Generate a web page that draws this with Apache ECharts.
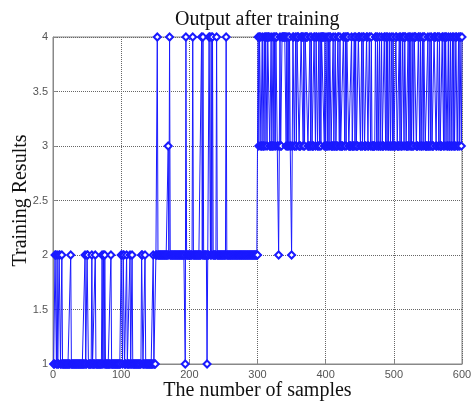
<!DOCTYPE html>
<html>
<head>
<meta charset="utf-8">
<script src="https://cdn.jsdelivr.net/npm/echarts@6/dist/echarts.min.js"></script>
<style>html,body{margin:0;padding:0;background:#fff;}#c{width:471px;height:403px;}</style>
</head>
<body>
<div id="c"></div>
<script>
// Tick labels
var xTicks = [0, 100, 200, 300, 400, 500, 600];
var yTicks = [1, 1.5, 2, 2.5, 3, 3.5, 4];

// Samples 1-150: mostly 1, spikes listed as [sample, value]
var seg1Base = 1;
var seg1Spikes = [[3,2],[4,2],[6,2],[9,2],[10,2],[13,2],[26,2],[47,2],[50,2],[51,2],[57,2],[62,2],[72,2],[74,2],[76,2],[85,2],[100,2],[101,2],[103,2],[104,2],[108,2],[113,2],[116,2],[130,2],[131,2],[135,2],[147,2]];

// Samples 151-300: mostly 2
var seg2Base = 2;
var seg2Spikes = [[153,4],[169,3],[171,4],[194,1],[195,4],[205,4],[218,4],[220,4],[226,1],[229,4],[230,4],[232,4],[234,4],[240,4],[254,4]];

// Samples 301-600
var seg3Values = [
4,3,4,4,3,3,4,3,3,4,
3,4,4,3,4,4,4,3,3,4,
3,3,4,3,4,3,4,4,3,3,
2,3,4,3,3,4,4,4,4,4,
4,3,4,3,4,3,4,3,3,2,
3,4,4,3,3,4,3,4,4,4,
3,3,3,4,4,4,3,4,3,4,
4,4,4,3,3,3,4,3,4,3,
3,3,4,4,3,4,4,3,3,4,
3,4,3,4,4,4,4,3,4,3,
3,4,3,4,3,4,4,3,3,3,
4,3,3,4,3,3,3,4,4,3,
4,3,3,3,3,4,4,3,4,3,
4,4,4,3,3,3,3,4,3,3,
3,4,3,4,3,3,3,4,4,4,
3,3,4,3,4,4,3,3,3,4,
4,3,3,4,4,3,4,3,3,3,
3,3,4,4,3,4,3,3,4,3,
3,4,3,3,3,4,4,3,4,3,
4,3,3,4,3,3,4,3,4,3,
3,3,4,4,3,3,3,4,3,4,
3,3,4,4,3,4,4,3,3,3,
4,3,4,3,4,3,3,4,3,4,
4,4,3,3,3,4,4,3,4,3,
3,4,3,4,4,3,3,3,3,4,
3,3,4,3,4,3,3,3,4,4,
4,3,3,4,4,3,4,3,3,3,
4,4,3,4,3,4,4,3,3,4,
3,3,4,3,3,4,3,4,3,3,
4,4,3,3,4,3,4,4,3,4
];

var data = [];
var spikes1 = {}; seg1Spikes.forEach(function(p){ spikes1[p[0]] = p[1]; });
var spikes2 = {}; seg2Spikes.forEach(function(p){ spikes2[p[0]] = p[1]; });
for (var i = 1; i <= 150; i++) data.push([i, spikes1[i] !== undefined ? spikes1[i] : seg1Base]);
for (var i = 151; i <= 300; i++) data.push([i, spikes2[i] !== undefined ? spikes2[i] : seg2Base]);
for (var k = 0; k < seg3Values.length; k++) data.push([301 + k, seg3Values[k]]);

var chart = echarts.init(document.getElementById('c'), null, {renderer: 'canvas'});
var serif = '"Liberation Serif", "DejaVu Serif", serif';
var sans = '"Liberation Sans", Arial, sans-serif';
chart.setOption({
  animation: false,
  backgroundColor: '#fff',
  title: {
    text: 'Output after training',
    left: 170, top: 5,
    textStyle: {fontFamily: serif, fontSize: 20, fontWeight: 'normal', color: '#111'}
  },
  grid: {left: 53, right: 9, top: 37, bottom: 39, show: true, borderColor: '#888', borderWidth: 1,
    containLabel: false, outerBoundsMode: 'none'},
  xAxis: {
    type: 'value', min: xTicks[0], max: xTicks[xTicks.length-1], interval: 100,
    name: 'The number of samples', nameLocation: 'middle', nameGap: 17, nameMoveOverlap: false,
    nameTextStyle: {fontFamily: serif, fontSize: 20, color: '#111'},
    axisLine: {show: true, lineStyle: {color: '#888'}},
    axisTick: {show: true, inside: true, length: 4, lineStyle: {color: '#888'}},
    axisLabel: {color: '#555', fontSize: 11, fontFamily: sans, margin: 5,
      formatter: function(v){ return xTicks.indexOf(v) >= 0 ? String(v) : ''; }},
    splitLine: {show: true, lineStyle: {type: 'dotted', color: '#666', width: 1}}
  },
  yAxis: {
    type: 'value', min: yTicks[0], max: yTicks[yTicks.length-1], interval: 0.5,
    name: 'Training Results', nameLocation: 'middle', nameGap: 22, nameMoveOverlap: false,
    nameTextStyle: {fontFamily: serif, fontSize: 20, color: '#111'},
    axisLine: {show: true, lineStyle: {color: '#888'}},
    axisTick: {show: true, inside: true, length: 4, lineStyle: {color: '#888'}},
    axisLabel: {color: '#555', fontSize: 11, fontFamily: sans, margin: 5,
      formatter: function(v){ return yTicks.indexOf(v) >= 0 ? String(v) : ''; }},
    splitLine: {show: true, lineStyle: {type: 'dotted', color: '#666', width: 1}}
  },
  series: [{
    type: 'line',
    data: data,
    symbol: 'emptyDiamond',
    symbolSize: 7,
    showAllSymbol: true,
    sampling: null,
    clip: false,
    lineStyle: {color: '#1a1aff', width: 1},
    itemStyle: {color: '#1a1aff', borderColor: '#1a1aff', borderWidth: 1},
    emphasis: {disabled: true}
  }]
});
</script>
</body>
</html>
